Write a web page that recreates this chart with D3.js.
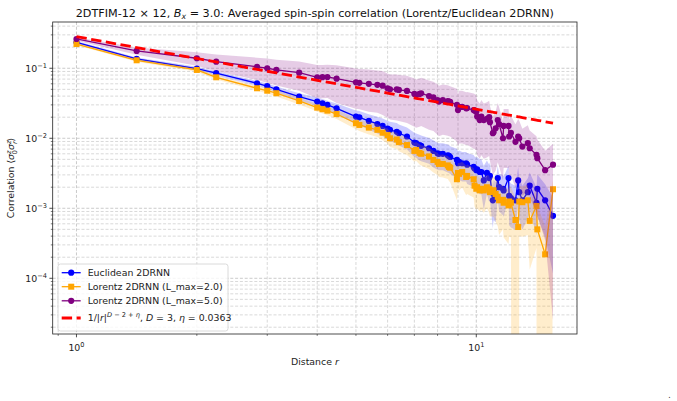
<!DOCTYPE html>
<html>
<head>
<meta charset="utf-8">
<title>2DTFIM averaged spin-spin correlation</title>
<script src="https://d3js.org/d3.v7.min.js"></script>
<style>
  body { margin: 0; background: #fff; }
  svg { font-family: "DejaVu Sans", sans-serif; }
</style>
</head>
<body>
<script>
// squared lattice distances |r|^2 = dx^2 + dy^2 on the 12x12 lattice
const rSquared = [1,2,4,5,8,9,10,13,16,17,18,20,25,26,29,32,34,36,37,40,
  41,45,49,50,52,53,58,61,64,65,68,72,73,74,80,81,82,85,89,90,
  97,98,100,101,104,106,109,113,116,117,121,122,125,128,130,136,137,145,146,149,
  157,162,164,170,181,185,200,202,221,242];

const euclid = [0.235,0.136,0.099,0.085,0.061,0.0558,0.050,0.0393,0.0334,0.0316,
  0.0299,0.0268,0.0204,0.0199,0.0177,0.016,0.015,0.0137,0.0132,0.0124,
  0.0118,0.0106,0.0087,0.0085,0.0080,0.0078,0.0072,0.0066,0.0061,0.0060,
  0.0060,0.0057,0.0056,0.0054,0.0049,0.0044,0.0046,0.0044,0.0044,0.0042,
  0.0039,0.0037,0.0035,0.0036,0.0033,0.0033,0.0025,0.0032,0.0027,0.0029,
  0.0013,0.0016,0.0015,0.0027,0.0020,0.0019,0.0018,0.0027,0.0015,0.0014,
  0.0013,0.0025,0.0017,0.0013,0.0017,0.0021,0.0012,0.0019,0.0013,0.00078];

const lorentz2 = [0.222,0.130,0.0946,0.0743,0.0518,0.0478,0.044,0.0341,0.0274,0.026,
  0.0248,0.0222,0.0164,0.0155,0.0142,0.0132,0.012,0.0111,0.0100,0.0096,
  0.0088,0.0080,0.0066,0.0068,0.0062,0.0060,0.0055,0.0049,0.0046,0.0043,
  0.0043,0.0041,0.0039,0.0038,0.0026,0.0032,0.0031,0.0033,0.0028,0.0029,
  0.0026,0.0021,0.0019,0.0020,0.0018,0.0019,0.0018,0.0020,0.0019,0.0017,
  0.0018,0.0018,0.0016,0.00146,0.0013,0.00132,0.0012,0.0011,0.00125,0.0012,
  0.00068,0.00054,0.00125,0.00122,0.0013,0.00066,0.00108,0.0005,0.00022,0.00187];

const lorentz5 = [0.262,0.177,0.139,0.124,0.105,0.100,0.0946,0.0865,0.0743,0.0745,
  0.075,0.071,0.063,0.062,0.060,0.058,0.0564,0.0518,0.050,0.0498,
  0.049,0.0474,0.043,0.0415,0.043,0.044,0.040,0.0385,0.0352,0.0334,
  0.035,0.034,0.0334,0.033,0.030,0.0253,0.028,0.028,0.0268,0.027,
  0.0253,0.025,0.024,0.0204,0.0182,0.0204,0.0182,0.019,0.020,0.017,
  0.0118,0.0122,0.0139,0.0182,0.0160,0.0100,0.0150,0.0150,0.0106,0.0120,
  0.0089,0.0106,0.0100,0.0076,0.0085,0.0072,0.0058,0.0052,0.0035,0.0042];

// spread of the shaded bands, as std / mean
const euclidRelStd = [0.04,0.05,0.06,0.07,0.08,0.09,0.10,0.12,0.14,0.15,
  0.15,0.17,0.22,0.23,0.25,0.27,0.28,0.30,0.30,0.33,
  0.33,0.35,0.38,0.38,0.40,0.40,0.40,0.42,0.42,0.42,
  0.42,0.43,0.43,0.43,0.45,0.48,0.45,0.45,0.45,0.47,
  0.48,0.48,0.50,0.50,0.52,0.52,0.62,0.50,0.55,0.55,
  0.60,0.58,0.58,0.50,0.55,0.58,0.58,0.50,0.62,0.62,
  0.62,0.55,0.60,0.62,0.58,0.55,0.65,0.60,0.70,0.85];

const lorentz2RelStd = [0.04,0.05,0.06,0.07,0.08,0.09,0.10,0.11,0.12,0.13,
  0.14,0.15,0.18,0.18,0.20,0.21,0.22,0.24,0.25,0.26,
  0.26,0.28,0.30,0.30,0.32,0.32,0.34,0.34,0.35,0.35,
  0.36,0.36,0.37,0.38,0.50,0.40,0.42,0.40,0.45,0.45,
  0.45,0.50,0.50,0.50,0.50,0.50,0.52,0.50,0.55,0.55,
  0.58,0.58,0.60,0.62,0.68,0.62,0.68,0.72,0.68,0.68,
  1.10,1.20,0.68,0.68,0.68,0.80,0.75,1.20,1.50,0.35];

const lorentz5RelStd = [0.06,0.12,0.22,0.27,0.35,0.38,0.40,0.45,0.50,0.50,
  0.50,0.55,0.58,0.58,0.60,0.60,0.62,0.62,0.63,0.64,
  0.64,0.65,0.66,0.66,0.66,0.66,0.67,0.67,0.68,0.68,
  0.68,0.68,0.68,0.68,0.70,0.70,0.70,0.70,0.70,0.70,
  0.72,0.72,0.72,0.72,0.72,0.72,0.72,0.72,0.72,0.72,
  0.75,0.75,0.75,0.75,0.75,0.75,0.75,0.75,0.75,0.75,
  0.78,0.78,0.78,0.80,0.80,0.80,0.85,0.85,0.90,0.994];

// power-law reference 1/|r|^(D-2+eta)
const fitAmp = 0.283;
const dimD = 3;
const eta = 0.0363;

const xDomain = [0.872, 17.86];
const yDomain = [1.6e-5, 0.458];

const width = 677, height = 401;
const pLeft = 52.7, pRight = 577, pTop = 22, pBottom = 334;

const svg = d3.select("body").append("svg")
  .attr("width", width)
  .attr("height", height);

const x = d3.scaleLog().domain(xDomain).range([pLeft, pRight]);
const y = d3.scaleLog().domain(yDomain).range([pBottom, pTop]);

const isMajor = t => Math.abs(Math.log10(t) - Math.round(Math.log10(t))) < 1e-6;

// grid, major and minor
const grid = svg.append("g");
grid.selectAll(".gx").data(x.ticks()).enter().append("line")
  .attr("x1", d => x(d)).attr("x2", d => x(d))
  .attr("y1", pTop).attr("y2", pBottom)
  .attr("stroke", d => isMajor(d) ? "#b4b4b4" : "#c8c8c8")
  .attr("stroke-width", 0.7)
  .attr("stroke-dasharray", "3,1.8");
grid.selectAll(".gy").data(y.ticks()).enter().append("line")
  .attr("x1", pLeft).attr("x2", pRight)
  .attr("y1", d => y(d)).attr("y2", d => y(d))
  .attr("stroke", d => isMajor(d) ? "#b4b4b4" : "#c8c8c8")
  .attr("stroke-width", 0.7)
  .attr("stroke-dasharray", "3,1.8");

svg.append("clipPath").attr("id", "plotclip")
  .append("rect").attr("x", pLeft).attr("y", pTop)
  .attr("width", pRight - pLeft).attr("height", pBottom - pTop);

const series = [
  {vals: euclid, rel: euclidRelStd, color: "blue", marker: "circle"},
  {vals: lorentz2, rel: lorentz2RelStd, color: "orange", marker: "square"},
  {vals: lorentz5, rel: lorentz5RelStd, color: "purple", marker: "circle"}
];

const plot = svg.append("g").attr("clip-path", "url(#plotclip)");

const area = d3.area()
  .x(d => x(d.r))
  .y0(d => y(Math.max(d.v - d.s, 1e-30)))
  .y1(d => y(d.v + d.s));

const line = d3.line().x(d => x(d.r)).y(d => y(d.v));

series.forEach(s => {
  const pts = rSquared.map((n, i) => ({r: Math.sqrt(n), v: s.vals[i], s: s.vals[i] * s.rel[i]}));
  plot.append("path").datum(pts)
    .attr("d", area)
    .attr("fill", s.color)
    .attr("fill-opacity", 0.2);
  plot.append("path").datum(pts)
    .attr("d", line)
    .attr("fill", "none")
    .attr("stroke", s.color)
    .attr("stroke-width", 1.3);
  if (s.marker === "circle") {
    plot.selectAll(null).data(pts).enter().append("circle")
      .attr("cx", d => x(d.r)).attr("cy", d => y(d.v))
      .attr("r", 3.1)
      .attr("fill", s.color);
  } else {
    plot.selectAll(null).data(pts).enter().append("rect")
      .attr("x", d => x(d.r) - 3).attr("y", d => y(d.v) - 3)
      .attr("width", 6).attr("height", 6)
      .attr("fill", s.color);
  }
});

const fitPts = rSquared.map(n => {
  const r = Math.sqrt(n);
  return {r: r, v: fitAmp / Math.pow(r, dimD - 2 + eta)};
});
plot.append("path").datum(fitPts)
  .attr("d", line)
  .attr("fill", "none")
  .attr("stroke", "red")
  .attr("stroke-width", 2.8)
  .attr("stroke-dasharray", "10.4,4.5");

// frame
svg.append("rect")
  .attr("x", pLeft).attr("y", pTop)
  .attr("width", pRight - pLeft).attr("height", pBottom - pTop)
  .attr("fill", "none").attr("stroke", "#222").attr("stroke-width", 0.8);

// ticks
const ax = svg.append("g");
ax.selectAll(".tx").data(x.ticks()).enter().append("line")
  .attr("x1", d => x(d)).attr("x2", d => x(d))
  .attr("y1", pBottom).attr("y2", d => pBottom + (isMajor(d) ? 3.3 : 1.9))
  .attr("stroke", "#222").attr("stroke-width", d => isMajor(d) ? 0.8 : 0.6);
ax.selectAll(".ty").data(y.ticks()).enter().append("line")
  .attr("y1", d => y(d)).attr("y2", d => y(d))
  .attr("x1", pLeft).attr("x2", d => pLeft - (isMajor(d) ? 3.3 : 1.9))
  .attr("stroke", "#222").attr("stroke-width", d => isMajor(d) ? 0.8 : 0.6);

function powLabel(sel, exp) {
  sel.append("tspan").text("10");
  sel.append("tspan").attr("dy", -3.8).attr("font-size", 6.6).text(exp);
}

x.ticks().filter(isMajor).forEach(t => {
  const tx = ax.append("text")
    .attr("x", x(t)).attr("y", 351)
    .attr("text-anchor", "middle")
    .attr("font-size", 9.4).attr("fill", "#222");
  powLabel(tx, String(Math.round(Math.log10(t))));
});
y.ticks().filter(isMajor).forEach(t => {
  const ty = ax.append("text")
    .attr("x", 47).attr("y", y(t) + 3.4)
    .attr("text-anchor", "end")
    .attr("font-size", 9.4).attr("fill", "#222");
  powLabel(ty, "\u2212" + Math.abs(Math.round(Math.log10(t))));
});

// axis labels
const xl = svg.append("text")
  .attr("x", (pLeft + pRight) / 2).attr("y", 365)
  .attr("text-anchor", "middle").attr("font-size", 9.4).attr("fill", "#222");
xl.append("tspan").text("Distance ");
xl.append("tspan").attr("font-style", "italic").text("r");

const yl = svg.append("text")
  .attr("transform", "translate(14," + ((pTop + pBottom) / 2) + ") rotate(-90)")
  .attr("text-anchor", "middle").attr("font-size", 9.4).attr("fill", "#222");
yl.append("tspan").text("Correlation \u27e8");
yl.append("tspan").attr("font-style", "italic").text("\u03c3");
yl.append("tspan").attr("font-size", 6.6).attr("font-style", "italic").attr("dy", -3.5).text("z");
yl.append("tspan").attr("font-size", 6.6).attr("dx", -3.6).attr("dy", 6.5).text("0");
yl.append("tspan").attr("font-style", "italic").attr("dy", -3).text("\u03c3");
yl.append("tspan").attr("font-size", 6.6).attr("font-style", "italic").attr("dy", -3.5).text("z");
yl.append("tspan").attr("font-size", 6.6).attr("font-style", "italic").attr("dx", -3.6).attr("dy", 6.5).text("r");
yl.append("tspan").attr("dy", -3).text("\u27e9");

// title
const title = svg.append("text")
  .attr("x", (pLeft + pRight) / 2).attr("y", 16.5)
  .attr("text-anchor", "middle").attr("font-size", 11.2).attr("fill", "#111");
title.append("tspan").text("2DTFIM-12 \u00d7 12, ");
title.append("tspan").attr("font-style", "italic").text("B");
title.append("tspan").attr("font-style", "italic").attr("font-size", 7.8).attr("dy", 2.5).text("x");
title.append("tspan").attr("dy", -2.5).text(" = 3.0: Averaged spin-spin correlation (Lorentz/Euclidean 2DRNN)");

// legend
const lg = svg.append("g");
lg.append("rect")
  .attr("x", 58).attr("y", 264).attr("width", 170).attr("height", 67).attr("rx", 2.5)
  .attr("fill", "#fff").attr("fill-opacity", 0.8)
  .attr("stroke", "#d0d0d0").attr("stroke-width", 0.8);

const legendRows = [
  {label: "Euclidean 2DRNN", color: "blue", marker: "circle", y: 272.7},
  {label: "Lorentz 2DRNN (L_max=2.0)", color: "orange", marker: "square", y: 286.7},
  {label: "Lorentz 2DRNN (L_max=5.0)", color: "purple", marker: "circle", y: 300.8},
  {label: null, color: "red", marker: null, y: 318}
];

legendRows.forEach(row => {
  const ln = lg.append("line")
    .attr("x1", 61.7).attr("x2", 80.7).attr("y1", row.y).attr("y2", row.y)
    .attr("stroke", row.color);
  if (row.marker === null) {
    ln.attr("stroke-width", 2.8).attr("stroke-dasharray", "10.4,4.5");
  } else {
    ln.attr("stroke-width", 1.3);
  }
  if (row.marker === "circle") {
    lg.append("circle").attr("cx", 71.2).attr("cy", row.y).attr("r", 3.1).attr("fill", row.color);
  } else if (row.marker === "square") {
    lg.append("rect").attr("x", 68.2).attr("y", row.y - 3).attr("width", 6).attr("height", 6).attr("fill", row.color);
  }
  const t = lg.append("text")
    .attr("x", 87.7).attr("y", row.y + 3.4)
    .attr("font-size", 9.4).attr("fill", "#222");
  if (row.label) {
    t.text(row.label);
  } else {
    t.append("tspan").text("1/|");
    t.append("tspan").attr("font-style", "italic").text("r");
    t.append("tspan").text("|");
    t.append("tspan").attr("font-size", 6.6).attr("dy", -4).attr("font-style", "italic").text("D");
    t.append("tspan").attr("font-size", 6.6).text(" \u2212 2 + ");
    t.append("tspan").attr("font-size", 6.6).attr("font-style", "italic").text("\u03b7");
    t.append("tspan").attr("dy", 4).text(", ");
    t.append("tspan").attr("font-style", "italic").text("D");
    t.append("tspan").text(" = 3, ");
    t.append("tspan").attr("font-style", "italic").text("\u03b7");
    t.append("tspan").text(" = 0.0363");
  }
});

svg.append("text").attr("x", 668).attr("y", 398).attr("font-size", 9).attr("fill", "#444").text(".");
</script>
</body>
</html>
